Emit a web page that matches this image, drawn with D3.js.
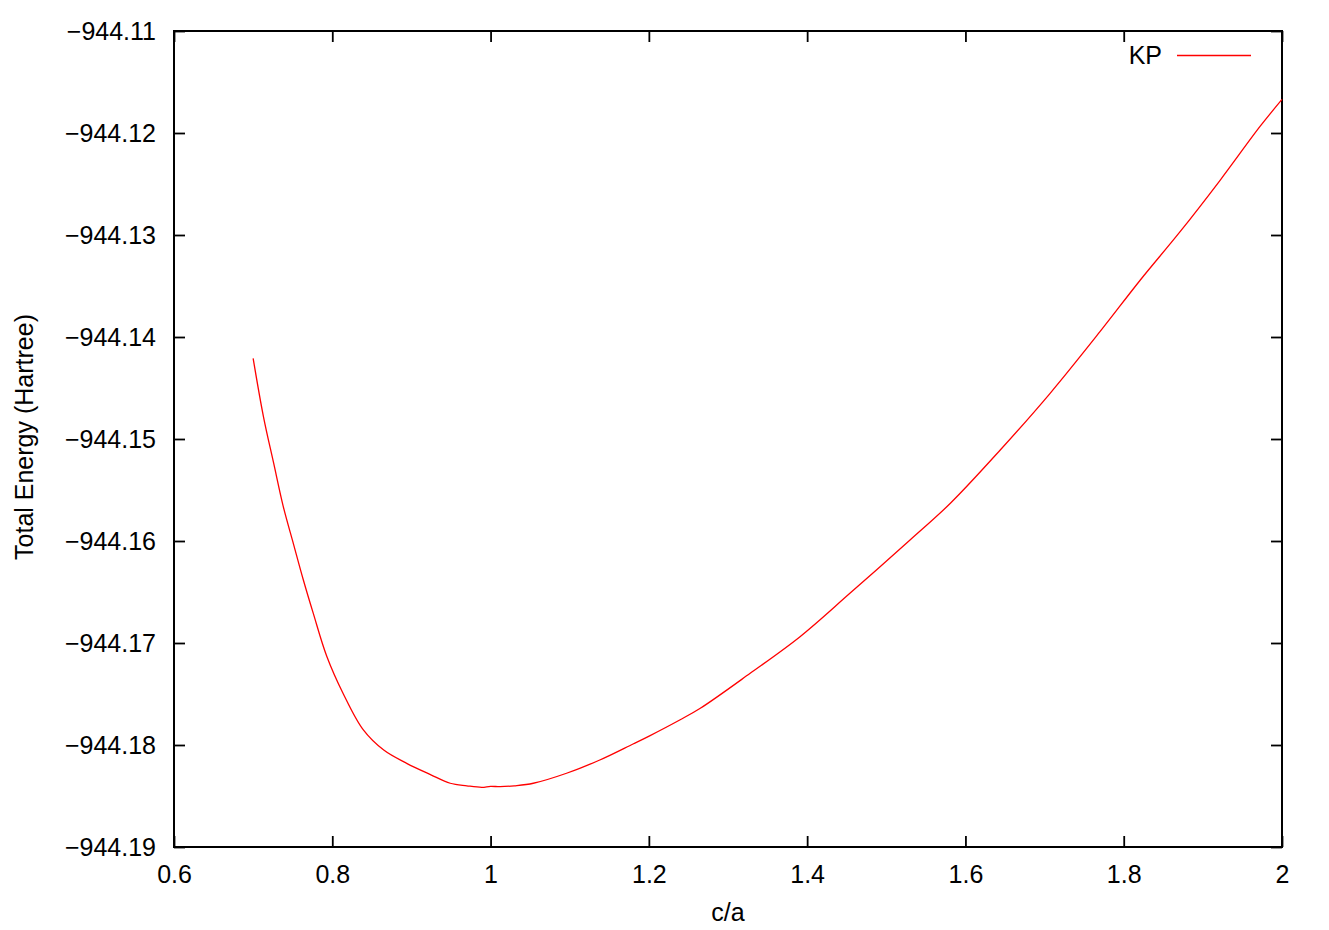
<html>
<head>
<meta charset="utf-8">
<script src="https://d3js.org/d3.v7.min.js"></script>
<style>
body { margin: 0; background: #fff; }
text { font-family: "Liberation Sans", Arial, sans-serif; font-size: 25px; fill: #000; }
</style>
</head>
<body>
<svg width="1329" height="930"></svg>
<script>
// c/a values and total energy (Hartree)
var ca = [0.700, 0.713, 0.726, 0.738, 0.751, 0.763, 0.776, 0.793, 0.814, 0.839,
          0.865, 0.894, 0.924, 0.949, 0.970, 0.989, 1.000, 1.012, 1.030, 1.054,
          1.096, 1.138, 1.180, 1.201, 1.239, 1.265, 1.328, 1.391, 1.454, 1.530,
          1.581, 1.644, 1.707, 1.770, 1.821, 1.871, 1.922, 1.972, 2.000];
var energy = [-944.1421, -944.1478, -944.1524, -944.1566, -944.1603, -944.1637, -944.1671, -944.1713, -944.1750, -944.1785,
              -944.1805, -944.1818, -944.1829, -944.18375, -944.1840, -944.18415, -944.18405, -944.18409, -944.18400, -944.18375,
              -944.18277, -944.18147, -944.1799, -944.1791, -944.17755, -944.1764, -944.17297, -944.16938, -944.16513, -944.1599,
              -944.1563, -944.15108, -944.14552, -944.13948, -944.13441, -944.1297, -944.12461, -944.11938, -944.1167];
var xTicks = [0.6, 0.8, 1, 1.2, 1.4, 1.6, 1.8, 2];
var yTicks = [-944.19, -944.18, -944.17, -944.16, -944.15, -944.14, -944.13, -944.12, -944.11];
var seriesName = "KP";

var pLeft = 174, pRight = 1282, pTop = 31, pBottom = 847;
var svg = d3.select("svg");

var x = d3.scaleLinear().domain([0.6, 2]).range([pLeft, pRight]);
var y = d3.scaleLinear().domain([-944.19, -944.11]).range([pBottom, pTop]);

var data = ca.map(function (d, i) { return {x: d, y: energy[i]}; });

var fmtY = function (d) { return d3.format(".2f")(d).replace("-", "\u2212"); };
var fmtX = function (d) { return String(d); };

// axes with inward ticks (gnuplot style) and mirrored ticks on top/right
svg.append("g")
   .attr("transform", "translate(" + pLeft + ",0)")
   .call(d3.axisLeft(y).tickValues(yTicks).tickFormat(fmtY).tickSizeInner(-11).tickSizeOuter(0).tickPadding(18));
svg.append("g")
   .attr("transform", "translate(" + pRight + ",0)")
   .call(d3.axisRight(y).tickValues(yTicks).tickFormat("").tickSizeInner(-11).tickSizeOuter(0));
svg.append("g")
   .attr("transform", "translate(0," + pBottom + ")")
   .call(d3.axisBottom(x).tickValues(xTicks).tickFormat(fmtX).tickSizeInner(-11).tickSizeOuter(0).tickPadding(18));
svg.append("g")
   .attr("transform", "translate(0," + pTop + ")")
   .call(d3.axisTop(x).tickValues(xTicks).tickFormat("").tickSizeInner(-11).tickSizeOuter(0));

svg.selectAll(".domain").remove();
svg.selectAll(".tick line").attr("stroke", "#000").attr("stroke-width", 1.8);
svg.selectAll(".tick text").attr("font-size", 25).attr("font-family", "Liberation Sans, Arial, sans-serif").attr("fill", "#000");

// frame
svg.append("rect")
   .attr("x", pLeft).attr("y", pTop)
   .attr("width", pRight - pLeft).attr("height", pBottom - pTop)
   .attr("fill", "none").attr("stroke", "#000").attr("stroke-width", 2);

// curve
svg.append("path")
   .datum(data)
   .attr("fill", "none")
   .attr("stroke", "#ff0000")
   .attr("stroke-width", 1.3)
   .attr("d", d3.line().x(function (d) { return x(d.x); }).y(function (d) { return y(d.y); }).curve(d3.curveCatmullRom.alpha(0.5)));

// axis titles
svg.append("text")
   .attr("x", (pLeft + pRight) / 2).attr("y", 921)
   .attr("text-anchor", "middle")
   .text("c/a");
svg.append("text")
   .attr("transform", "translate(33," + 437 + ") rotate(-90)")
   .attr("text-anchor", "middle")
   .text("Total Energy (Hartree)");

// legend
svg.append("text")
   .attr("x", 1162).attr("y", 64)
   .attr("text-anchor", "end")
   .text(seriesName);
svg.append("line")
   .attr("x1", 1177).attr("x2", 1251)
   .attr("y1", 55.5).attr("y2", 55.5)
   .attr("stroke", "#ff0000").attr("stroke-width", 1.3);
</script>
</body>
</html>
